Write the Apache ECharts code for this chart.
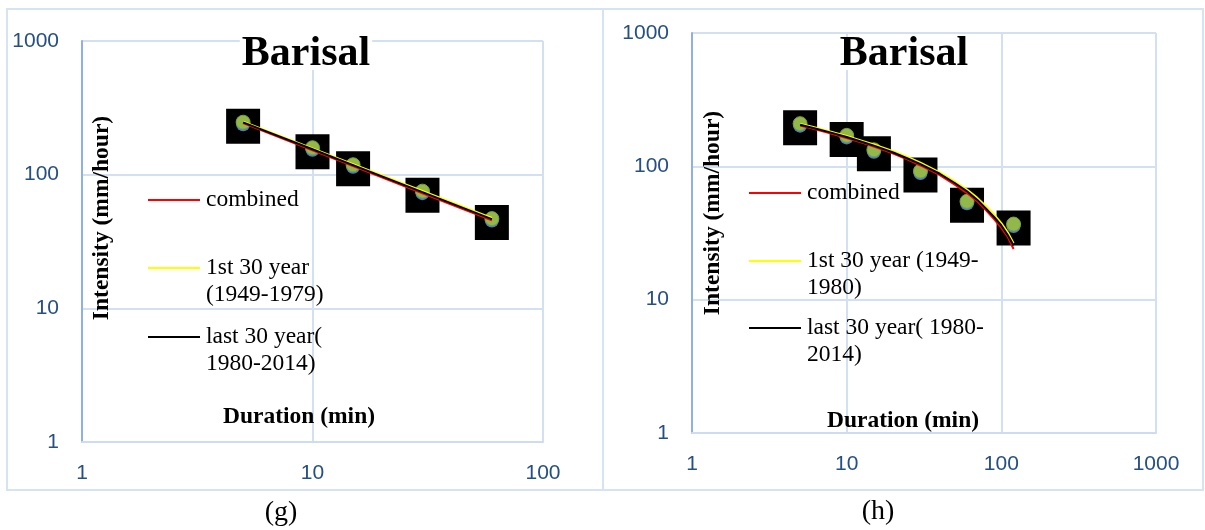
<!DOCTYPE html>
<html>
<head>
<meta charset="utf-8">
<script src="https://cdn.jsdelivr.net/npm/echarts@6/dist/echarts.min.js"></script>
<style>
  html, body { margin: 0; padding: 0; background: #ffffff; }
  #chart { width: 1205px; height: 530px; }
</style>
</head>
<body>
<div id="chart"></div>
<script>
// ---- Panel (g): Barisal, 5–60 min ----
const durG = [5, 10, 15, 30, 60];
const obsG = [247, 159, 118.6, 75.3, 46.9];
const fitDurG = [5, 10, 15, 30, 60];
const combinedG = [243, 152, 116, 72.5, 45.5];
const firstG = [249, 157, 120, 75.5, 47.5];
const lastG = [246, 155, 118, 74, 46.5];

// ---- Panel (h): Barisal, 5–120 min ----
const durH = [5, 10, 15, 30, 60, 120];
const obsH = [209, 170.6, 133, 92.2, 54.6, 36.9];
const fitDurH = [5, 6, 7.5, 10, 12.5, 15, 20, 25, 30, 40, 50, 60, 70, 80, 90, 100, 110, 120];
const combinedH = [202, 192, 179, 163, 150.5, 140.5, 124.5, 112, 101.5, 86, 73, 63, 54.5, 46.5, 40, 34.5, 29.5, 24];
const firstH = [208, 198, 185, 169, 156, 146, 130, 117, 106.5, 90, 77, 67, 58, 50, 43.5, 37.5, 32, 26.5];
const lastH = [205, 195, 182, 166, 153, 143, 127, 114, 104, 88, 75, 65, 56, 48, 41.5, 36, 30.5, 25.5];

// axis extents (decades)
const yTicks = [1, 10, 100, 1000];
const xTicksG = [1, 10, 100];
const xTicksH = [1, 10, 100, 1000];

const seriesNames = ['combined', '1st 30 year', 'last 30 year'];
const legendTextG = ['combined', '1st 30 year\n(1949-1979)', 'last 30 year(\n1980-2014)'];
const legendTextH = ['combined', '1st 30 year (1949-\n1980)', 'last 30 year( 1980-\n2014)'];

const lineColors = ['#ff0000', '#ffff00', '#000000'];
const tickColor = '#264f84';
const serif = "'Liberation Serif', 'Times New Roman', serif";
const sans = "'Liberation Sans', Arial, sans-serif";

const pairs = (xs, ys) => xs.map((x, i) => [x, ys[i]]);
const plainNumber = (v) => String(Math.round(v));

function axesFor(gridIndex, xTicks) {
  const x = {
    type: 'log', logBase: 10, gridIndex,
    min: xTicks[0], max: xTicks[xTicks.length - 1],
    axisLine: { show: true, onZero: false, lineStyle: { color: '#cddcf0', width: 2 } },
    axisTick: { show: false },
    axisLabel: { color: tickColor, fontFamily: sans, fontSize: 21, margin: 21, formatter: plainNumber },
    splitLine: { show: true, lineStyle: { color: '#d3e0f2', width: 2 } },
    minorTick: { show: false }, minorSplitLine: { show: false }
  };
  const y = {
    type: 'log', logBase: 10, gridIndex,
    min: yTicks[0], max: yTicks[yTicks.length - 1],
    axisLine: { show: true, onZero: false, lineStyle: { color: '#8fb0e2', width: 2 } },
    axisTick: { show: false },
    axisLabel: { color: tickColor, fontFamily: sans, fontSize: 21, margin: 23, formatter: plainNumber },
    splitLine: { show: true, lineStyle: { color: '#d3e0f2', width: 2 } }
  };
  return { x, y };
}

function seriesFor(idx, dur, obs, fitDur, fits) {
  const base = { xAxisIndex: idx, yAxisIndex: idx, silent: true, animation: false };
  const out = [
    Object.assign({}, base, {
      type: 'scatter', symbol: 'rect', symbolSize: [34, 35], symbolOffset: [0, 4],
      itemStyle: { color: '#000000', opacity: 1 }, data: pairs(dur, obs), z: 2
    }),
    Object.assign({}, base, {
      type: 'scatter', symbol: 'circle', symbolSize: 14, symbolOffset: [0, 2],
      itemStyle: { color: '#4a7fd0', opacity: 1 }, data: pairs(dur, obs), z: 3
    }),
    Object.assign({}, base, {
      type: 'scatter', symbol: 'circle', symbolSize: 14,
      itemStyle: { color: '#92b74a', borderColor: '#7aa23a', borderWidth: 1, opacity: 1 },
      data: pairs(dur, obs), z: 4
    })
  ];
  fits.forEach((vals, k) => {
    out.push(Object.assign({}, base, {
      type: 'line', name: seriesNames[k], showSymbol: false, smooth: false,
      lineStyle: { color: lineColors[k], width: 2 },
      data: pairs(fitDur, vals), z: 5 + k
    }));
  });
  return out;
}

const gAxes = axesFor(0, xTicksG);
const hAxes = axesFor(1, xTicksH);

function legendGraphics(x0, ys, texts) {
  const els = [];
  texts.forEach((t, k) => {
    els.push({
      type: 'line', silent: true, z: 100,
      shape: { x1: x0, y1: ys[k], x2: x0 + 52, y2: ys[k] },
      style: { stroke: lineColors[k], lineWidth: 2 }
    });
    els.push({
      type: 'text', silent: true, z: 100, x: x0 + 58, y: ys[k] - 14,
      style: { text: t, font: '23.5px ' + serif, fill: '#000000', lineHeight: 27, verticalAlign: 'top' }
    });
  });
  return els;
}

function centeredText(text, x, y, font, rotation, bg) {
  const style = { text, font, fill: '#000000', align: 'center', verticalAlign: 'middle' };
  if (bg) { style.backgroundColor = '#ffffff'; style.padding = [0, 2]; style.lineHeight = 32; }
  return { type: 'text', silent: true, z: 100, x, y, rotation: rotation || 0, style };
}

const option = {
  backgroundColor: '#ffffff',
  animation: false,
  grid: [
    { left: 82, top: 41, width: 461, height: 401 },
    { left: 692, top: 33, width: 464, height: 400 }
  ],
  xAxis: [gAxes.x, hAxes.x],
  yAxis: [gAxes.y, hAxes.y],
  series: [].concat(
    seriesFor(0, durG, obsG, fitDurG, [combinedG, firstG, lastG]),
    seriesFor(1, durH, obsH, fitDurH, [combinedH, firstH, lastH])
  ),
  graphic: [].concat(
    [
      // panel frames
      { type: 'rect', silent: true, shape: { x: 7, y: 9, width: 596, height: 481 },
        style: { fill: 'none', stroke: '#d6e3f3', lineWidth: 2 }, z: -1 },
      { type: 'rect', silent: true, shape: { x: 603, y: 9, width: 600, height: 481 },
        style: { fill: 'none', stroke: '#d6e3f3', lineWidth: 2 }, z: -1 },
      // titles
      centeredText('Barisal', 306, 54, 'bold 42px ' + serif, 0, true),
      centeredText('Barisal', 904, 54, 'bold 42px ' + serif, 0, true),
      // axis titles
      centeredText('Intensity (mm/hour)', 102, 218, 'bold 23.5px ' + serif, Math.PI / 2),
      centeredText('Intensity (mm/hour)', 713, 213, 'bold 23.5px ' + serif, Math.PI / 2),
      centeredText('Duration (min)', 299, 417, 'bold 23.5px ' + serif),
      centeredText('Duration (min)', 903, 421, 'bold 23.5px ' + serif),
      // panel captions
      centeredText('(g)', 281, 513, '28px ' + serif),
      centeredText('(h)', 878, 512, '28px ' + serif)
    ],
    legendGraphics(148, [200, 268, 337], legendTextG),
    legendGraphics(749, [193, 261, 328], legendTextH)
  )
};

const chart = echarts.init(document.getElementById('chart'), null, { renderer: 'canvas' });
chart.setOption(option);
</script>
</body>
</html>
